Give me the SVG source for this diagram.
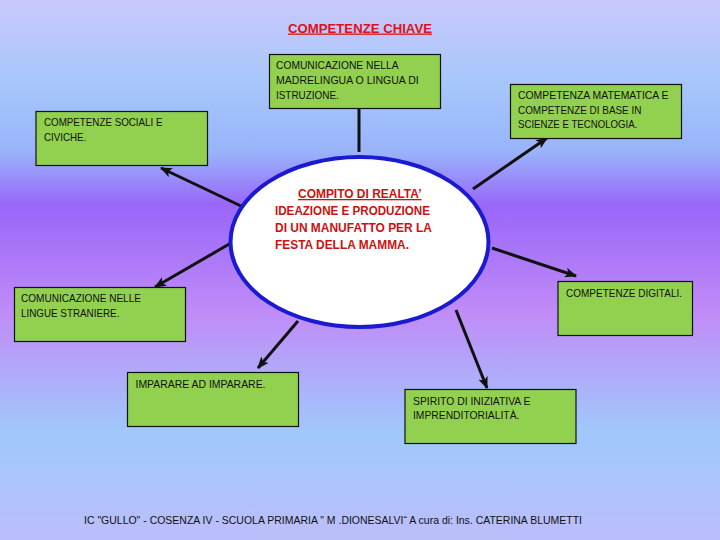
<svg xmlns="http://www.w3.org/2000/svg" width="720" height="540" viewBox="0 0 720 540">
<defs>
<linearGradient id="bg" x1="0" y1="0" x2="0" y2="1">
<stop offset="0" stop-color="#c9c9fb"/>
<stop offset="0.16" stop-color="#a6c6fb"/>
<stop offset="0.28" stop-color="#99b4fb"/>
<stop offset="0.38" stop-color="#9966f9"/>
<stop offset="0.58" stop-color="#c08cf8"/>
<stop offset="0.8" stop-color="#a0c8fb"/>
<stop offset="1" stop-color="#bcbefa"/>
</linearGradient>
<marker id="ah" markerUnits="userSpaceOnUse" markerWidth="12" markerHeight="10" refX="11" refY="5" orient="auto">
<path d="M0,0 L12,5 L0,10 L3,5 Z" fill="#111"/>
</marker>
<style>
.box{fill:#92d050;stroke:#111;stroke-width:1.2}
.t{font-family:"Liberation Sans",Arial,sans-serif;font-size:11px;fill:#111}
.r{font-family:"Liberation Sans",Arial,sans-serif;font-size:13px;font-weight:bold;fill:#cc1111}
.c{stroke:#111;stroke-width:3;fill:none}
</style>
</defs>
<rect width="720" height="540" fill="url(#bg)"/>
<text class="r" x="288" y="32.5" textLength="144" lengthAdjust="spacingAndGlyphs" text-decoration="underline" style="fill:#e0101a">COMPETENZE CHIAVE</text>

<g id="connectors">
<line class="c" x1="359" y1="108" x2="359" y2="152" stroke-width="4"/>
<line class="c" x1="241" y1="206" x2="161" y2="168" marker-end="url(#ah)"/>
<line class="c" x1="473" y1="189" x2="547" y2="138" marker-end="url(#ah)"/>
<line class="c" x1="492" y1="248" x2="576" y2="276" marker-end="url(#ah)"/>
<line class="c" x1="231" y1="243" x2="155" y2="287" marker-end="url(#ah)"/>
<line class="c" x1="298" y1="321" x2="258" y2="368" marker-end="url(#ah)"/>
<line class="c" x1="456" y1="310" x2="487" y2="388" marker-end="url(#ah)"/>
</g>

<g id="center">
<ellipse cx="359.5" cy="242" rx="129" ry="85" fill="#fff" stroke="#1a1ad0" stroke-width="4"/>
<text class="r" x="298" y="198" textLength="123.5" lengthAdjust="spacingAndGlyphs" text-decoration="underline">COMPITO DI REALTA’</text>
<text class="r" x="275" y="215" textLength="155" lengthAdjust="spacingAndGlyphs">IDEAZIONE E PRODUZIONE</text>
<text class="r" x="275" y="232" textLength="157" lengthAdjust="spacingAndGlyphs">DI UN MANUFATTO PER LA</text>
<text class="r" x="275" y="249" textLength="134" lengthAdjust="spacingAndGlyphs">FESTA DELLA MAMMA.</text>
</g>

<g id="madrelingua">
<rect class="box" x="269.5" y="54.5" width="171" height="54"/>
<text class="t" x="276" y="69" textLength="122.5" lengthAdjust="spacingAndGlyphs">COMUNICAZIONE NELLA</text>
<text class="t" x="276" y="84" textLength="142.7" lengthAdjust="spacingAndGlyphs">MADRELINGUA O LINGUA DI</text>
<text class="t" x="276" y="98.5" textLength="62.8" lengthAdjust="spacingAndGlyphs">ISTRUZIONE.</text>
</g>

<g id="matematica">
<rect class="box" x="510.5" y="84.5" width="171" height="54"/>
<text class="t" x="518" y="99" textLength="150.5" lengthAdjust="spacingAndGlyphs">COMPETENZA MATEMATICA E</text>
<text class="t" x="518" y="113.5" textLength="123.4" lengthAdjust="spacingAndGlyphs">COMPETENZE DI BASE IN</text>
<text class="t" x="518" y="128" textLength="119.3" lengthAdjust="spacingAndGlyphs">SCIENZE E TECNOLOGIA.</text>
</g>

<g id="sociali">
<rect class="box" x="36" y="111.5" width="171.5" height="54"/>
<text class="t" x="44" y="126" textLength="118.5" lengthAdjust="spacingAndGlyphs">COMPETENZE SOCIALI E</text>
<text class="t" x="44" y="140.5" textLength="42.3" lengthAdjust="spacingAndGlyphs">CIVICHE.</text>
</g>

<g id="lingue">
<rect class="box" x="14.5" y="287.5" width="171" height="54"/>
<text class="t" x="21" y="302" textLength="120" lengthAdjust="spacingAndGlyphs">COMUNICAZIONE NELLE</text>
<text class="t" x="21" y="316.5" textLength="98.4" lengthAdjust="spacingAndGlyphs">LINGUE STRANIERE.</text>
</g>

<g id="digitali">
<rect class="box" x="558" y="281.5" width="134.5" height="54"/>
<text class="t" x="566" y="296.5" textLength="116" lengthAdjust="spacingAndGlyphs">COMPETENZE DIGITALI.</text>
</g>

<g id="imparare">
<rect class="box" x="127.5" y="372.5" width="171" height="54"/>
<text class="t" x="135.5" y="387.5" textLength="130" lengthAdjust="spacingAndGlyphs">IMPARARE AD IMPARARE.</text>
</g>

<g id="spirito">
<rect class="box" x="405" y="389.5" width="171" height="54"/>
<text class="t" x="413" y="404.5" textLength="117.5" lengthAdjust="spacingAndGlyphs">SPIRITO DI INIZIATIVA E</text>
<text class="t" x="413" y="418.5" textLength="106.4" lengthAdjust="spacingAndGlyphs">IMPRENDITORIALITÀ.</text>
</g>

<text class="t" x="84" y="523.5" textLength="498" lengthAdjust="spacingAndGlyphs">IC "GULLO" - COSENZA IV - SCUOLA PRIMARIA " M .DIONESALVI“  A cura di: Ins. CATERINA BLUMETTI</text>
</svg>
